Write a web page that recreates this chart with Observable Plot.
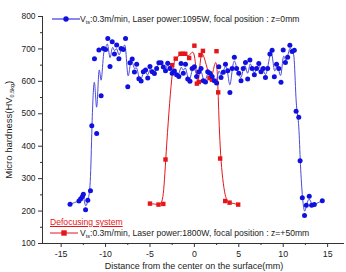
<!DOCTYPE html>
<html><head><meta charset="utf-8">
<script src="https://cdn.jsdelivr.net/npm/d3@7"></script>
<script src="https://cdn.jsdelivr.net/npm/@observablehq/plot@0.6"></script>
<style>
body{margin:0;background:#fff;font-family:"Liberation Sans",Arial,sans-serif;}
#wrap{position:relative;width:346px;height:272px;overflow:hidden;}
.ov{position:absolute;white-space:nowrap;color:#222;font-size:8.6px;line-height:1;}
.ov sub{font-size:5.5px;vertical-align:-2px;}
</style></head><body>
<div id="wrap"></div>
<script>
const xDomain = [-17.1, 16.9];
const yDomain = [100, 800];
const xTicks = [-15, -10, -5, 0, 5, 10, 15];
const xMinor = [-12.5, -7.5, -2.5, 2.5, 7.5, 12.5];
const yTicks = [100, 200, 300, 400, 500, 600, 700, 800];
const yMinor = [150, 250, 350, 450, 550, 650, 750];

const blueX = [-14.0,-13.0,-12.8,-12.6,-12.5,-12.25,-12.0,-11.7,-11.55,-11.25,-11.0,-10.75,-10.5,-10.25,-10.0,-9.75,-9.5,-9.25,-9.0,-8.75,-8.5,-8.25,-8.0,-7.75,-7.5,-7.25,-7.0,-6.75,-6.5,-6.25,-6.0,-5.75,-5.5,-5.25,-5.0,-4.75,-4.5,-4.25,-4.0,-3.75,-3.5,-3.25,-3.0,-2.75,-2.5,-2.25,-2.0,-1.75,-1.5,-1.25,-1.0,-0.75,-0.5,-0.25,0,0.25,0.5,0.75,1.0,1.25,1.5,1.75,2.0,2.25,2.5,2.75,3.0,3.25,3.5,3.75,4.0,4.25,4.5,4.75,5.0,5.25,5.5,5.75,6.0,6.25,6.5,6.75,7.0,7.25,7.5,7.75,8.0,8.25,8.5,8.75,9.0,9.25,9.5,9.75,10.0,10.25,10.5,10.75,11.0,11.25,11.45,11.75,11.9,12.15,12.4,12.6,12.93,13.2,13.5,14.4];
const blueY = [221,231,238,245,252,204,233,263,463,670,439,697,556,701,698,732,646,722,684,712,670,701,698,732,583,657,669,629,653,608,601,630,635,610,646,630,624,640,657,657,644,633,656,640,625,632,620,615,655,625,653,607,600,640,645,615,630,640,602,598,630,625,615,602,595,645,612,628,653,633,566,640,674,640,625,602,640,658,607,666,640,620,640,655,630,640,612,640,684,696,614,653,640,597,697,658,674,711,692,696,508,489,355,241,186,218,246,218,220,232];

const redX = [-5.0,-4.04,-3.5,-3.25,-2.5,-2.1,-1.56,-1.3,-1.03,-0.59,0.0,0.28,0.5,0.69,0.96,1.7,1.97,2.49,2.68,2.9,3.47,3.96,4.93];
const redY = [223,220,222,359,650,670,685,685,685,672,710,593,598,681,694,610,605,693,566,362,231,226,220];

const legendBlue = "0.3m/min, Laser power:1095W, focal position : z=0mm";
const legendRed = "0.3m/min, Laser power:1800W, focal position : z=+50mm";
const legendRedTitle = "Defocusing system";
const xTitle = "Distance from the center on the surface(mm)";

const blue = blueX.map((x, i) => ({x, y: blueY[i]}));
const red = redX.map((x, i) => ({x, y: redY[i]}));

const BLUE = "#1010e0", BLUE_L = "#4a4ad8", RED = "#e5161b";
const fmt = d => String(d);

const chart = Plot.plot({
  width: 346, height: 272,
  marginLeft: 42, marginRight: 2, marginTop: 16, marginBottom: 29,
  style: {fontFamily: "Liberation Sans, Arial, sans-serif", fontSize: "8.6px", color: "#222", background: "#fff"},
  x: {domain: xDomain},
  y: {domain: yDomain},
  marks: [
    Plot.ruleX([xDomain[0]], {stroke: "#333", strokeWidth: 1}),
    Plot.ruleY([yDomain[0]], {stroke: "#333", strokeWidth: 1}),
    Plot.axisY({ticks: yTicks, tickSize: 4, tickPadding: 3, tickFormat: fmt, label: null, stroke: "#333", fontSize: 8.4}),
    Plot.axisY({ticks: yMinor, tickSize: 2, tickFormat: () => "", label: null, stroke: "#333"}),
    Plot.axisX({ticks: xTicks, tickSize: 4, tickPadding: 3, tickFormat: fmt, label: null, stroke: "#333", fontSize: 8.8}),
    Plot.axisX({ticks: xMinor, tickSize: 2, tickFormat: () => "", label: null, stroke: "#333"}),
    Plot.line(red, {x: "x", y: "y", curve: "basis", stroke: RED, strokeWidth: 1}),
    Plot.line(blue, {x: "x", y: "y", curve: "basis", stroke: BLUE_L, strokeWidth: 1}),
    Plot.dot(red, {x: "x", y: "y", symbol: "square", r: 2.5, fill: RED, stroke: "none"}),
    Plot.dot(blue, {x: "x", y: "y", r: 2.5, fill: BLUE, stroke: "none"})
  ]
});
const wrap = document.getElementById("wrap");
wrap.appendChild(chart);

function icon(color, shape) {
  const m = shape === "circle"
    ? `<circle cx="14" cy="4" r="2.7" fill="${color}"/>`
    : `<rect x="11.3" y="1.3" width="5.4" height="5.4" fill="${color}"/>`;
  return `<svg width="28" height="8" style="position:absolute;left:0;top:0"><line x1="0" x2="28" y1="4" y2="4" stroke="${color}" stroke-width="1"/>${m}</svg>`;
}
function add(html, left, top, extra) {
  const d = document.createElement("div");
  d.className = "ov";
  d.style.left = left + "px"; d.style.top = top + "px";
  if (extra) Object.assign(d.style, extra);
  d.innerHTML = html;
  wrap.appendChild(d);
  return d;
}
add(icon(BLUE, "circle"), 52, 15, {width: "28px", height: "8px"});
add(`V<sub>ts</sub>:${legendBlue}`, 80, 15);
add(legendRedTitle, 50, 218, {color: RED, textDecoration: "underline"});
add(icon(RED, "square"), 50, 229, {width: "28px", height: "8px"});
add(`V<sub>ts</sub>:${legendRed}`, 80, 229);
add(xTitle, 0, 262, {width: "388px", textAlign: "center", fontSize: "9px"});
const yt = add(`Micro hardness(HV<sub>0.5kg</sub>)`, 0, 0, {fontSize: "9.5px"});
const w = yt.offsetWidth;
yt.style.left = (10 - w / 2) + "px";
yt.style.top = "124px";
yt.style.transform = "rotate(-90deg)";
yt.style.transformOrigin = "center";
</script>
</body></html>
